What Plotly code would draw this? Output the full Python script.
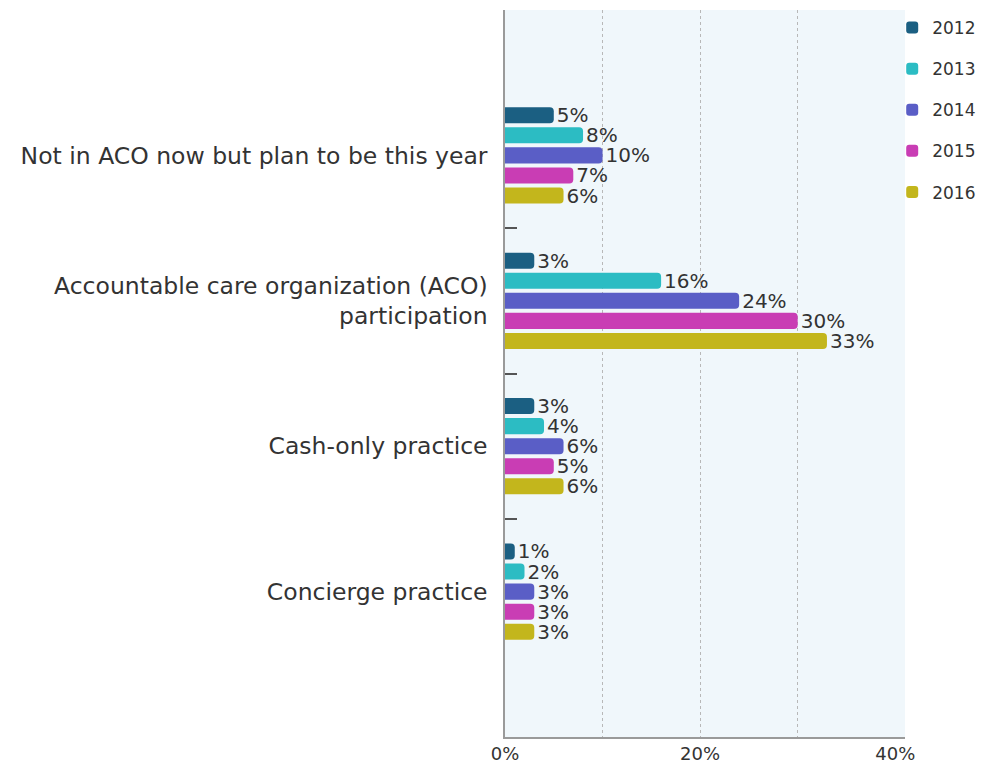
import plotly.graph_objects as go

categories = [
    "Not in ACO now but plan to be this year",
    "Accountable care organization (ACO)<br>participation",
    "Cash-only practice",
    "Concierge practice",
]
years = ["2012", "2013", "2014", "2015", "2016"]
values_2012 = [5, 3, 3, 1]
values_2013 = [8, 16, 4, 2]
values_2014 = [10, 24, 6, 3]
values_2015 = [7, 30, 5, 3]
values_2016 = [6, 33, 6, 3]
series = [values_2012, values_2013, values_2014, values_2015, values_2016]
colors = ["#1b5f82", "#2cbcc3", "#5a5ec6", "#c93db4", "#c3b61c"]
x_tick_vals = [0, 20, 40]
x_tick_text = ["0%", "20%", "40%"]
grid_vals = [10, 20, 30]

FONT = "DejaVu Sans"
positions = list(range(len(categories)))

fig = go.Figure()
for yr, vals, col in zip(years, series, colors):
    fig.add_trace(go.Bar(
        name=yr,
        legendgroup=yr,
        y=positions,
        x=vals,
        orientation="h",
        marker=dict(color=col, line=dict(width=0)),
        text=[f"{v}%" for v in vals],
        textposition="outside",
        constraintext="none",
        cliponaxis=False,
        textfont=dict(family=FONT, size=20, color="#333333"),
        hoverinfo="skip",
    ))

# page body adds an 8px offset, so the figure is sized to fill the rest of the window
fig.update_layout(
    width=987,
    height=757,
    margin=dict(l=497, r=90, t=2, b=28),
    paper_bgcolor="white",
    plot_bgcolor="#f0f7fb",
    barmode="group",
    bargap=0.31,
    bargroupgap=0.2,
    barcornerradius=4,
    font=dict(family=FONT, color="#333333"),
    showlegend=True,
    legend=dict(
        x=0.968, y=1.0, xanchor="left", yanchor="top",
        font=dict(family=FONT, size=17, color="#333333"),
        traceorder="grouped",
        tracegroupgap=16,
        bgcolor="rgba(0,0,0,0)",
        itemclick=False,
        itemwidth=30,
    ),
    xaxis=dict(
        range=[0, 41],
        tickvals=x_tick_vals,
        ticktext=x_tick_text,
        tickfont=dict(family=FONT, size=18, color="#333333"),
        showgrid=False,
        zeroline=False,
        showline=True,
        linecolor="#9a9a9a",
        linewidth=1.5,
        ticks="",
        ticklabelstandoff=0,
        automargin=False,
        minor=dict(tickvals=grid_vals, showgrid=True, gridcolor="#b8b8b8",
                   griddash="dot", gridwidth=1, ticks=""),
        fixedrange=True,
    ),
    yaxis=dict(
        range=[len(categories), -1],
        tickvals=positions,
        ticktext=categories,
        tickfont=dict(family=FONT, size=23.5, color="#333333"),
        showgrid=False,
        zeroline=False,
        showline=True,
        linecolor="#9a9a9a",
        linewidth=1.5,
        ticks="",
        ticklabelstandoff=11,
        automargin=False,
        minor=dict(tickvals=[0.5, 1.5, 2.5], ticks="inside", ticklen=12,
                   tickcolor="#555555", tickwidth=1.5, showgrid=False),
        fixedrange=True,
    ),
)

fig.write_html("out.html")
